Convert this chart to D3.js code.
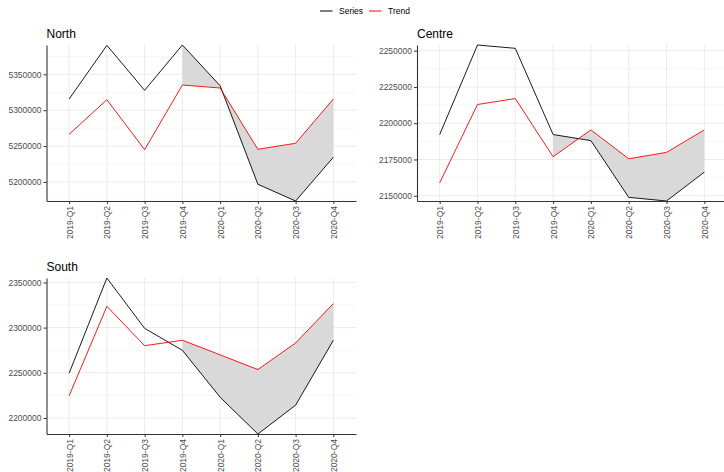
<!DOCTYPE html>
<html>
<head>
<meta charset="utf-8">
<script src="https://cdn.jsdelivr.net/npm/d3@7"></script>
<style>
  html, body { margin: 0; padding: 0; background: #fff; }
  svg { display: block; font-family: "Liberation Sans", Arial, sans-serif; }
</style>
</head>
<body>
<svg id="chart" width="724" height="472"></svg>
<script>
// Quarterly periods shared by every region
const quarters = ["2019-Q1", "2019-Q2", "2019-Q3", "2019-Q4",
                  "2020-Q1", "2020-Q2", "2020-Q3", "2020-Q4"];

// Observed series and fitted trend per region
const northSeries  = [5315600, 5390300, 5327700, 5390800, 5334100, 5196800, 5173500, 5234400];
const northTrend   = [5266400, 5314600, 5245000, 5335100, 5330900, 5245500, 5253900, 5315600];
const centreSeries = [2192200, 2253900, 2251600, 2192200, 2188000, 2148900, 2146400, 2166300];
const centreTrend  = [2158900, 2212900, 2217000, 2176900, 2195400, 2175500, 2179900, 2195400];
const southSeries  = [2249600, 2354900, 2299200, 2274900, 2223000, 2182300, 2214200, 2286000];
const southTrend   = [2224600, 2323600, 2280000, 2286000, 2269900, 2253600, 2283000, 2326600];

// Y-axis tick labels per region
const northTicks  = [5200000, 5250000, 5300000, 5350000];
const centreTicks = [2150000, 2175000, 2200000, 2225000, 2250000];
const southTicks  = [2200000, 2250000, 2300000, 2350000];

// Shaded gap between series and trend starts at this period
const gapStart = "2019-Q4";

const panels = [
  { title: "North",  series: northSeries,  trend: northTrend,  ticks: northTicks,  x0: 46.5, x1: 356, y0: 45,  y1: 201 },
  { title: "Centre", series: centreSeries, trend: centreTrend, ticks: centreTicks, x0: 417,  x1: 727, y0: 45,  y1: 201 },
  { title: "South",  series: southSeries,  trend: southTrend,  ticks: southTicks,  x0: 46.5, x1: 356, y0: 278, y1: 434 }
];

const svg = d3.select("#chart");

panels.forEach(p => {
  const g = svg.append("g");
  const x = d3.scalePoint().domain(quarters).range([p.x0, p.x1]).padding(0.6);
  const y = d3.scaleLinear()
    .domain(d3.extent(p.series.concat(p.trend)))
    .range([p.y1, p.y0]);

  const step = p.ticks[1] - p.ticks[0];
  const minor = [p.ticks[0] - step / 2]
    .concat(p.ticks.map(t => t + step / 2))
    .filter(v => v >= y.domain()[0] && v <= y.domain()[1]);

  // grid
  g.selectAll(".minor").data(minor).join("line")
    .attr("x1", p.x0).attr("x2", p.x1)
    .attr("y1", d => y(d)).attr("y2", d => y(d))
    .attr("stroke", "#f3f3f3").attr("stroke-width", 0.7);
  g.selectAll(".hmajor").data(p.ticks).join("line")
    .attr("x1", p.x0).attr("x2", p.x1)
    .attr("y1", d => y(d)).attr("y2", d => y(d))
    .attr("stroke", "#ebebeb").attr("stroke-width", 1);
  g.selectAll(".vmajor").data(quarters).join("line")
    .attr("x1", d => x(d)).attr("x2", d => x(d))
    .attr("y1", p.y0).attr("y2", p.y1)
    .attr("stroke", "#ebebeb").attr("stroke-width", 1);

  const rows = quarters.map((q, i) => ({ q, s: p.series[i], t: p.trend[i] }));
  const startIdx = quarters.indexOf(gapStart);

  // ribbon
  g.append("path")
    .datum(rows.slice(startIdx))
    .attr("fill", "#d9d9d9")
    .attr("d", d3.area().x(d => x(d.q)).y0(d => y(d.s)).y1(d => y(d.t)));

  // lines
  g.append("path")
    .datum(rows)
    .attr("fill", "none").attr("stroke", "#000").attr("stroke-width", 0.9)
    .attr("d", d3.line().x(d => x(d.q)).y(d => y(d.s)));
  g.append("path")
    .datum(rows)
    .attr("fill", "none").attr("stroke", "#ff0000").attr("stroke-width", 0.9)
    .attr("d", d3.line().x(d => x(d.q)).y(d => y(d.t)));

  // axes
  const ya = g.append("g")
    .attr("transform", `translate(${p.x0},0)`)
    .call(d3.axisLeft(y).tickValues(p.ticks).tickFormat(d3.format("d"))
      .tickSize(3).tickSizeOuter(0).tickPadding(2));
  const xa = g.append("g")
    .attr("transform", `translate(0,${p.y1})`)
    .call(d3.axisBottom(x).tickSize(3).tickSizeOuter(0).tickPadding(2));

  [ya, xa].forEach(a => {
    a.select(".domain").attr("stroke", "#333").attr("stroke-width", 1.1);
    a.selectAll(".tick line").attr("stroke", "#333").attr("stroke-width", 1);
    a.selectAll(".tick text").attr("fill", "#4d4d4d")
      .style("font-size", "8.5px").style("font-family", "'Liberation Sans', Arial, sans-serif");
  });
  xa.selectAll(".tick text")
    .attr("text-anchor", "end")
    .attr("transform", "rotate(-90)")
    .attr("x", -5).attr("y", 0).attr("dy", "0.35em");

  // title
  g.append("text")
    .attr("x", p.x0).attr("y", p.y0 - 7)
    .attr("font-size", "12px").attr("fill", "#000")
    .text(p.title);
});

// legend
const legendItems = [
  { label: "Series", color: "#000", x: 320 },
  { label: "Trend",  color: "#ff0000", x: 369 }
];
const lg = svg.append("g");
legendItems.forEach(it => {
  lg.append("line")
    .attr("x1", it.x).attr("x2", it.x + 12.5)
    .attr("y1", 11).attr("y2", 11)
    .attr("stroke", it.color).attr("stroke-width", 1);
  lg.append("text")
    .attr("x", it.x + 19).attr("y", 11).attr("dy", "0.35em")
    .attr("font-size", "8.5px").attr("fill", "#000")
    .text(it.label);
});
</script>
</body>
</html>
